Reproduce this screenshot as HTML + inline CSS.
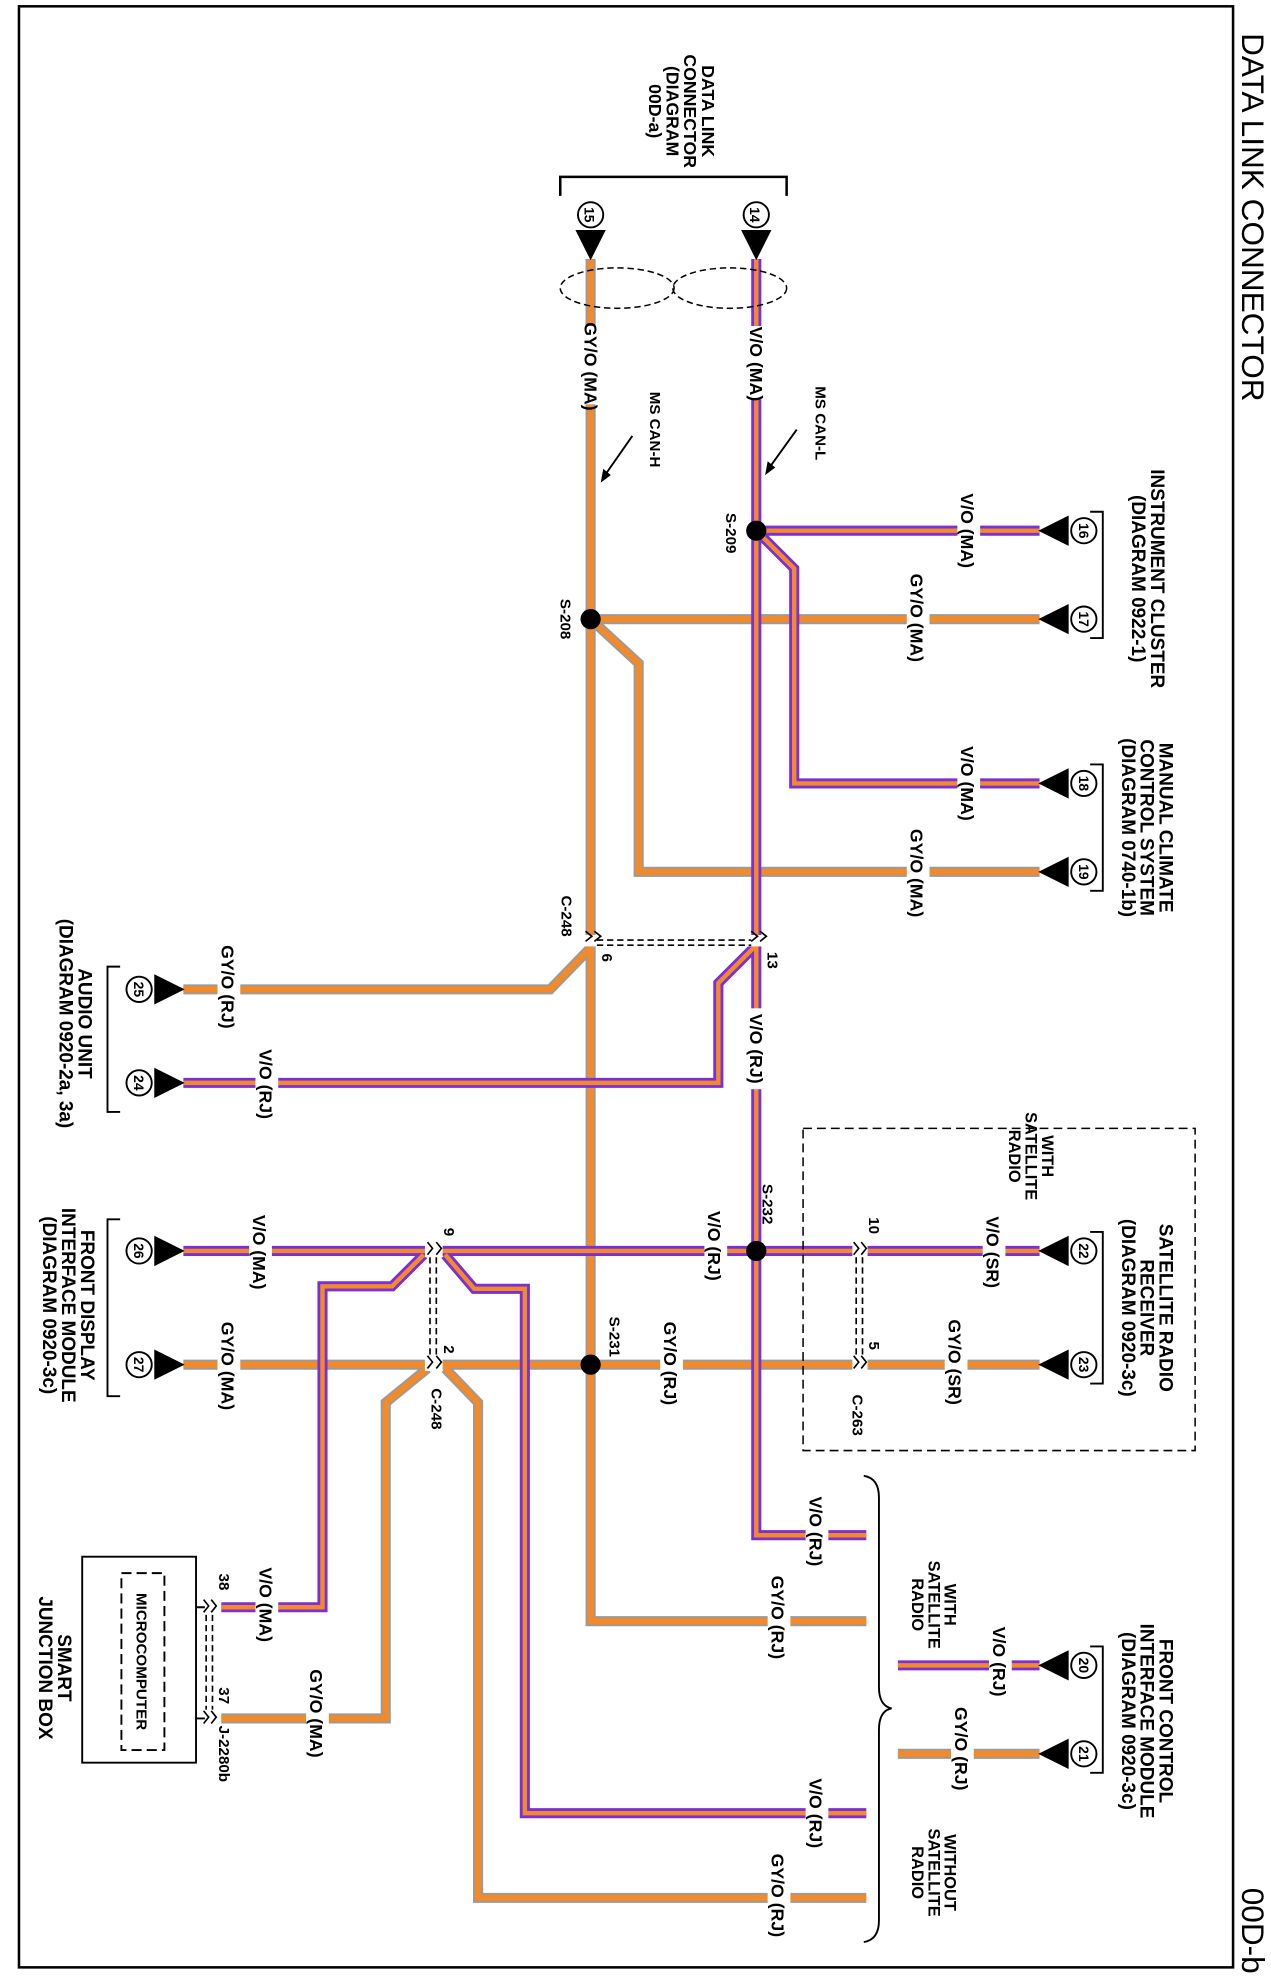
<!DOCTYPE html>
<html><head><meta charset="utf-8"><style>
html,body{margin:0;padding:0;background:#fff}
svg{display:block}
text{font-family:"Liberation Sans",Arial,sans-serif;font-weight:bold;fill:#000}
.vo{fill:none;stroke:#7a2fd8;stroke-width:8;stroke-linejoin:miter}
.voi{fill:none;stroke:#f28a2a;stroke-width:3.5}
.gy{fill:none;stroke:#9a9a9a;stroke-width:8}
.gyi{fill:none;stroke:#f28a2a;stroke-width:5}
.w{fill:#fff}
.lb{font-size:14px}
</style></head><body>
<svg width="1271" height="1980" viewBox="0 0 1005 1567" preserveAspectRatio="none" xmlns="http://www.w3.org/2000/svg">
<rect x="15" y="5" width="960" height="1552" fill="none" stroke="#000" stroke-width="2"/>
<text transform="translate(982,172) rotate(90)" text-anchor="middle" style="font-size:25px;font-weight:normal">DATA LINK CONNECTOR</text>
<text transform="translate(982,1528) rotate(90)" text-anchor="middle" style="font-size:25px;font-weight:normal">00D-b</text>

<g>
<path class="gy" d="M467,205 V1283 H685"/>
<path class="gy" d="M467,490 H822 M467,490 L505,525 V690 H822"/>
<path class="gy" d="M467,750 L435,783 H145"/>
<path class="gy" d="M145,1080 H822"/>
<path class="gy" d="M338,1083 L305,1110 V1360 H175"/>
<path class="gy" d="M352,1083 L378,1110 V1502 H685"/>
<path class="gy" d="M710,1388 H822"/>
<path class="gyi" d="M467,205 V1283 H685"/>
<path class="gyi" d="M467,490 H822 M467,490 L505,525 V690 H822"/>
<path class="gyi" d="M467,750 L435,783 H145"/>
<path class="gyi" d="M145,1080 H822"/>
<path class="gyi" d="M338,1083 L305,1110 V1360 H175"/>
<path class="gyi" d="M352,1083 L378,1110 V1502 H685"/>
<path class="gyi" d="M710,1388 H822"/>
</g>
<g>
<path class="vo" d="M598,205 V1215 H685"/>
<path class="vo" d="M598,420 H822 M598,420 L628,450 V620 H822"/>
<path class="vo" d="M598,748 L568,778 V857 H145"/>
<path class="vo" d="M145,990 H822"/>
<path class="vo" d="M335,993 L310,1018 H255 V1272 H175"/>
<path class="vo" d="M352,993 L375,1020 H415 V1435 H685"/>
<path class="vo" d="M710,1318 H822"/>
<path class="voi" d="M598,205 V1215 H685"/>
<path class="voi" d="M598,420 H822 M598,420 L628,450 V620 H822"/>
<path class="voi" d="M598,748 L568,778 V857 H145"/>
<path class="voi" d="M145,990 H822"/>
<path class="voi" d="M335,993 L310,1018 H255 V1272 H175"/>
<path class="voi" d="M352,993 L375,1020 H415 V1435 H685"/>
<path class="voi" d="M710,1318 H822"/>
</g>

<g fill="#fff" stroke="none">
<rect x="458" y="740" width="20" height="9"/><rect x="589" y="740" width="20" height="9"/>
<rect x="336" y="985" width="14" height="10"/><rect x="336" y="1075" width="14" height="10"/>
<rect x="674" y="985" width="12" height="10"/><rect x="674" y="1075" width="12" height="10"/>
<rect x="160" y="1267" width="10" height="10"/><rect x="160" y="1355" width="10" height="10"/>
</g>
<g stroke="#000" stroke-width="1.3" fill="none">
<path d="M463,737 l5,4 l-5,4 M470,737 l5,4 l-5,4 M594,737 l5,4 l-5,4 M601,737 l5,4 l-5,4"/>
<path d="M472,744 H594 M472,748 H594" stroke-dasharray="5,3"/>
<path d="M338,983 l4,5 l-4,5 M345,983 l4,5 l-4,5 M338,1073 l4,5 l-4,5 M345,1073 l4,5 l-4,5"/>
<path d="M340,995 V1073 M345,995 V1073" stroke-dasharray="5,3"/>
<path d="M675,983 l4,5 l-4,5 M681,983 l4,5 l-4,5 M675,1073 l4,5 l-4,5 M681,1073 l4,5 l-4,5"/>
<path d="M677,995 V1073 M682,995 V1073" stroke-dasharray="5,3"/>
<path d="M161,1266 l4,5 l-4,5 M167,1266 l4,5 l-4,5 M161,1354 l4,5 l-4,5 M167,1354 l4,5 l-4,5"/>
<path d="M163,1278 V1353 M168,1278 V1353" stroke-dasharray="5,3"/>
</g>

<g fill="#000"><circle cx="598" cy="420" r="8"/><circle cx="467" cy="490" r="8"/><circle cx="598" cy="990" r="8"/><circle cx="467" cy="1080" r="8"/></g>

<path d="M443,155 V140 H622 V155" fill="none" stroke="#000" stroke-width="2"/>
<text transform="translate(555,88) rotate(90)" text-anchor="middle" style="font-size:14px">DATA LINK<tspan x="0" dy="14">CONNECTOR</tspan><tspan x="0" dy="14">(DIAGRAM</tspan><tspan x="0" dy="14">00D-a)</tspan></text>
<g stroke="#000" stroke-width="1.5" fill="#fff"><circle cx="467" cy="170" r="10"/><circle cx="598" cy="170" r="10"/></g>
<g fill="#000"><path d="M455,182 H479 L467,206 Z"/><path d="M586,182 H610 L598,206 Z"/></g>
<text transform="translate(462,170) rotate(90)" text-anchor="middle" style="font-size:11px">15</text>
<text transform="translate(593,170) rotate(90)" text-anchor="middle" style="font-size:11px">14</text>
<g fill="none" stroke="#000" stroke-width="1.2" stroke-dasharray="5,3"><ellipse cx="488" cy="228" rx="45" ry="16"/><ellipse cx="577" cy="228" rx="45" ry="16"/></g>

<text transform="translate(514,340) rotate(90)" text-anchor="middle" style="font-size:12px">MS CAN-H</text>
<text transform="translate(645,335) rotate(90)" text-anchor="middle" style="font-size:12px">MS CAN-L</text>
<path d="M500,345 L477,378 M630,340 L607,372" stroke="#000" stroke-width="1.5"/>
<path d="M475,382 l2,-11 l6,5 Z M605,376 l2,-11 l6,5 Z" fill="#000"/>

<g class="w">
<rect x="459" y="258" width="17" height="62"/><rect x="590" y="258" width="17" height="58"/>
<rect x="590" y="798" width="17" height="64"/>
<rect x="757" y="388" width="18" height="64"/><rect x="717" y="446" width="18" height="86"/>
<rect x="757" y="588" width="18" height="64"/><rect x="717" y="648" width="18" height="86"/>
<rect x="172" y="738" width="18" height="86"/><rect x="202" y="824" width="18" height="68"/>
<rect x="557" y="956" width="18" height="60"/><rect x="777" y="958" width="18" height="66"/>
<rect x="197" y="958" width="18" height="66"/><rect x="172" y="1038" width="18" height="86"/>
<rect x="522" y="1038" width="18" height="82"/><rect x="747" y="1038" width="18" height="80"/>
<rect x="637" y="1182" width="18" height="60"/><rect x="607" y="1238" width="18" height="84"/>
<rect x="782" y="1283" width="18" height="64"/><rect x="752" y="1343" width="18" height="82"/>
<rect x="637" y="1402" width="18" height="66"/><rect x="607" y="1458" width="18" height="84"/>
<rect x="202" y="1238" width="18" height="64"/><rect x="242" y="1318" width="18" height="76"/>
</g>
<g class="lb">
<text transform="translate(462,290) rotate(90)" text-anchor="middle">GY/O (MA)</text>
<text transform="translate(593,288) rotate(90)" text-anchor="middle">V/O (MA)</text>
<text transform="translate(593,830) rotate(90)" text-anchor="middle">V/O (RJ)</text>
<text transform="translate(760,420) rotate(90)" text-anchor="middle">V/O (MA)</text>
<text transform="translate(720,489) rotate(90)" text-anchor="middle">GY/O (MA)</text>
<text transform="translate(760,620) rotate(90)" text-anchor="middle">V/O (MA)</text>
<text transform="translate(720,691) rotate(90)" text-anchor="middle">GY/O (MA)</text>
<text transform="translate(175,781) rotate(90)" text-anchor="middle">GY/O (RJ)</text>
<text transform="translate(205,858) rotate(90)" text-anchor="middle">V/O (RJ)</text>
<text transform="translate(560,986) rotate(90)" text-anchor="middle">V/O (RJ)</text>
<text transform="translate(780,991) rotate(90)" text-anchor="middle">V/O (SR)</text>
<text transform="translate(200,991) rotate(90)" text-anchor="middle">V/O (MA)</text>
<text transform="translate(175,1081) rotate(90)" text-anchor="middle">GY/O (MA)</text>
<text transform="translate(525,1079) rotate(90)" text-anchor="middle">GY/O (RJ)</text>
<text transform="translate(750,1078) rotate(90)" text-anchor="middle">GY/O (SR)</text>
<text transform="translate(640,1212) rotate(90)" text-anchor="middle">V/O (RJ)</text>
<text transform="translate(610,1280) rotate(90)" text-anchor="middle">GY/O (RJ)</text>
<text transform="translate(785,1315) rotate(90)" text-anchor="middle">V/O (RJ)</text>
<text transform="translate(755,1384) rotate(90)" text-anchor="middle">GY/O (RJ)</text>
<text transform="translate(640,1435) rotate(90)" text-anchor="middle">V/O (RJ)</text>
<text transform="translate(610,1500) rotate(90)" text-anchor="middle">GY/O (RJ)</text>
<text transform="translate(205,1270) rotate(90)" text-anchor="middle">V/O (MA)</text>
<text transform="translate(245,1356) rotate(90)" text-anchor="middle">GY/O (MA)</text>
</g>

<g style="font-size:12px">
<text transform="translate(574,422) rotate(90)" text-anchor="middle">S-209</text>
<text transform="translate(443,490) rotate(90)" text-anchor="middle">S-208</text>
<text transform="translate(444,725) rotate(90)" text-anchor="middle">C-248</text>
<text transform="translate(476,758) rotate(90)" text-anchor="middle">6</text>
<text transform="translate(607,760) rotate(90)" text-anchor="middle">13</text>
<text transform="translate(603,953) rotate(90)" text-anchor="middle">S-232</text>
<text transform="translate(482,1058) rotate(90)" text-anchor="middle">S-231</text>
<text transform="translate(351,975) rotate(90)" text-anchor="middle">9</text>
<text transform="translate(351,1068) rotate(90)" text-anchor="middle">2</text>
<text transform="translate(341,1115) rotate(90)" text-anchor="middle">C-248</text>
<text transform="translate(687,970) rotate(90)" text-anchor="middle">10</text>
<text transform="translate(687,1065) rotate(90)" text-anchor="middle">5</text>
<text transform="translate(674,1120) rotate(90)" text-anchor="middle">C-263</text>
<text transform="translate(173,1252) rotate(90)" text-anchor="middle">38</text>
<text transform="translate(173,1342) rotate(90)" text-anchor="middle">37</text>
<text transform="translate(173,1388) rotate(90)" text-anchor="middle">J-2280b</text>
</g>

<g stroke="#000" stroke-width="1.5" fill="#fff">
<circle cx="857" cy="420" r="10"/><circle cx="857" cy="490" r="10"/><circle cx="857" cy="620" r="10"/><circle cx="857" cy="690" r="10"/>
<circle cx="857" cy="990" r="10"/><circle cx="857" cy="1080" r="10"/><circle cx="857" cy="1318" r="10"/><circle cx="857" cy="1388" r="10"/>
<circle cx="110" cy="783" r="10"/><circle cx="110" cy="857" r="10"/><circle cx="110" cy="990" r="10"/><circle cx="110" cy="1080" r="10"/>
</g>
<g fill="#000">
<path d="M845,408 V432 L821,420 Z"/><path d="M845,478 V502 L821,490 Z"/><path d="M845,608 V632 L821,620 Z"/><path d="M845,678 V702 L821,690 Z"/>
<path d="M845,978 V1002 L821,990 Z"/><path d="M845,1068 V1092 L821,1080 Z"/><path d="M845,1306 V1330 L821,1318 Z"/><path d="M845,1376 V1400 L821,1388 Z"/>
<path d="M122,771 V795 L146,783 Z"/><path d="M122,845 V869 L146,857 Z"/><path d="M122,978 V1002 L146,990 Z"/><path d="M122,1068 V1092 L146,1080 Z"/>
</g>
<g style="font-size:11px" text-anchor="middle">
<text transform="translate(853,420) rotate(90)">16</text><text transform="translate(853,490) rotate(90)">17</text>
<text transform="translate(853,620) rotate(90)">18</text><text transform="translate(853,690) rotate(90)">19</text>
<text transform="translate(853,990) rotate(90)">22</text><text transform="translate(853,1080) rotate(90)">23</text>
<text transform="translate(853,1318) rotate(90)">20</text><text transform="translate(853,1388) rotate(90)">21</text>
<text transform="translate(106,783) rotate(90)">25</text><text transform="translate(106,857) rotate(90)">24</text>
<text transform="translate(106,990) rotate(90)">26</text><text transform="translate(106,1080) rotate(90)">27</text>
</g>
<g fill="none" stroke="#000" stroke-width="1.5">
<path d="M862,405 H872 V505 H862"/><path d="M862,605 H872 V705 H862"/>
<path d="M862,975 H872 V1095 H862"/><path d="M862,1303 H872 V1403 H862"/>
<path d="M95,765 H85 V880 H95"/><path d="M95,965 H85 V1105 H95"/>
<path d="M683,1168 Q695,1170 695,1185 V1335 Q695,1350 705,1352 Q695,1354 695,1369 V1520 Q695,1535 683,1537"/>
</g>
<g style="font-size:15px" text-anchor="middle">
<text transform="translate(910,458) rotate(90)">INSTRUMENT CLUSTER<tspan x="0" dy="15">(DIAGRAM 0922-1)</tspan></text>
<text transform="translate(917,655) rotate(90)">MANUAL CLIMATE<tspan x="0" dy="15">CONTROL SYSTEM</tspan><tspan x="0" dy="15">(DIAGRAM 0740-1b)</tspan></text>
<text transform="translate(917,1035) rotate(90)">SATELLITE RADIO<tspan x="0" dy="15">RECEIVER</tspan><tspan x="0" dy="15">(DIAGRAM 0920-3c)</tspan></text>
<text transform="translate(917,1362) rotate(90)">FRONT CONTROL<tspan x="0" dy="15">INTERFACE MODULE</tspan><tspan x="0" dy="15">(DIAGRAM 0920-3c)</tspan></text>
<text transform="translate(62,810) rotate(90)">AUDIO UNIT<tspan x="0" dy="15">(DIAGRAM 0920-2a, 3a)</tspan></text>
<text transform="translate(64,1033) rotate(90)">FRONT DISPLAY<tspan x="0" dy="15">INTERFACE MODULE</tspan><tspan x="0" dy="15">(DIAGRAM 0920-3c)</tspan></text>
<text transform="translate(46,1320) rotate(90)">SMART<tspan x="0" dy="15">JUNCTION BOX</tspan></text>
</g>
<g style="font-size:13px" text-anchor="middle">
<text transform="translate(824,915) rotate(90)">WITH<tspan x="0" dy="13">SATELLITE</tspan><tspan x="0" dy="13">RADIO</tspan></text>
<text transform="translate(747,1270) rotate(90)">WITH<tspan x="0" dy="13">SATELLITE</tspan><tspan x="0" dy="13">RADIO</tspan></text>
<text transform="translate(747,1482) rotate(90)">WITHOUT<tspan x="0" dy="13">SATELLITE</tspan><tspan x="0" dy="13">RADIO</tspan></text>
</g>
<rect x="635" y="893" width="310" height="255" fill="none" stroke="#000" stroke-width="1.2" stroke-dasharray="7,4"/>
<rect x="65" y="1232" width="90" height="163" fill="#fff" stroke="#000" stroke-width="1.5"/>
<rect x="96" y="1245" width="34" height="140" fill="none" stroke="#000" stroke-width="1.5" stroke-dasharray="8,4"/>
<text transform="translate(108,1315) rotate(90)" text-anchor="middle" style="font-size:12px">MICROCOMPUTER</text>
<path d="M155,1272 H162 M155,1360 H162" stroke="#000" stroke-width="1.5"/>
</svg>
</body></html>
